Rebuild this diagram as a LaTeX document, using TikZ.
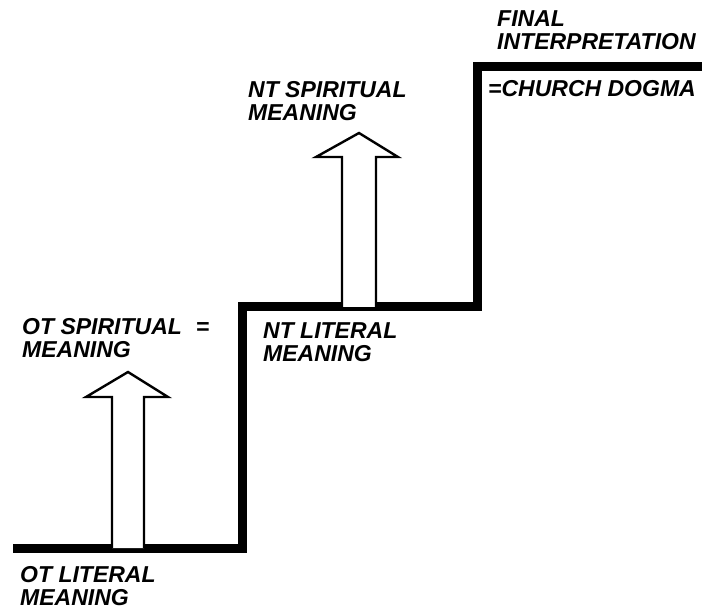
\documentclass[tikz,border=0pt]{standalone}
\usepackage{fontspec}
\setmainfont{Liberation Sans}
\usetikzlibrary{positioning}

\begin{document}
\begin{tikzpicture}[x=1pt, y=-1pt,
  stair/.style={line width=9pt, line join=miter, line cap=butt},
  hollow/.style={line width=2.4pt, fill=white, line join=miter},
  caption/.style={font=\fontsize{23}{23}\selectfont\bfseries\itshape,
                  align=left, inner sep=0pt, anchor=base west}
]
\useasboundingbox (0,0) rectangle (702,612);

% staircase corners
\coordinate (s0) at (13,548);
\coordinate (s1) at (242,548);
\coordinate (s2) at (242,307);
\coordinate (s3) at (477,307);
\coordinate (s4) at (477,67);
\coordinate (s5) at (702,67);
\draw[stair] (s0) -- (s1) -- (s2) -- (s3) -- (s4) -- (s5);

% hollow arrows
\draw[hollow] (112,548) -- (112,397) -- (86,397) -- (128,372)
  -- (168,397) -- (144,397) -- (144,548);
\draw[hollow] (342,307) -- (342,157) -- (316,157) -- (359,133)
  -- (398,157) -- (376,157) -- (376,307);

% labels (anchored at baseline of last line)
\node[caption] (otlit)  at (20,605)  {OT LITERAL\\MEANING};
\node[caption] (otspir) at (22,358)  {OT SPIRITUAL\hspace{14pt}=\\MEANING};
\node[caption] (ntlit)  at (263,362) {NT LITERAL\\MEANING};
\node[caption] (ntspir) at (248,121) {NT SPIRITUAL\\MEANING};
\node[caption] (final)  at (497,50)  {FINAL\\INTERPRETATION};
\node[caption] (dogma)  at (488,97)  {=CHURCH DOGMA};

\end{tikzpicture}
\end{document}
